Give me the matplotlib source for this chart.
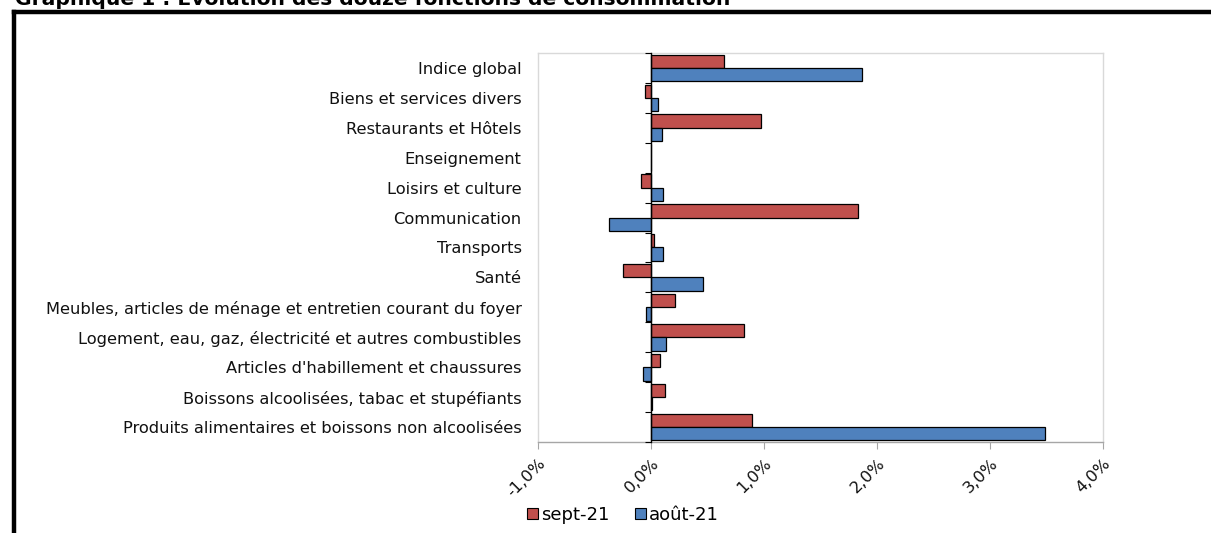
import matplotlib
matplotlib.use("Agg")
import matplotlib.pyplot as plt
from matplotlib.lines import Line2D
from matplotlib.patches import Patch
import numpy as np

categories = [
    "Produits alimentaires et boissons non alcoolisées",
    "Boissons alcoolisées, tabac et stupéfiants",
    "Articles d'habillement et chaussures",
    "Logement, eau, gaz, électricité et autres combustibles",
    "Meubles, articles de ménage et entretien courant du foyer",
    "Santé",
    "Transports",
    "Communication",
    "Loisirs et culture",
    "Enseignement",
    "Restaurants et Hôtels",
    "Biens et services divers",
    "Indice global",
]
sept_21 = [0.89, 0.12, 0.08, 0.82, 0.21, -0.25, 0.03, 1.83, -0.09, 0.0, 0.97, -0.05, 0.65]
aout_21 = [3.49, 0.01, -0.07, 0.13, -0.04, 0.46, 0.11, -0.37, 0.11, 0.0, 0.10, 0.06, 1.87]
series_labels = ["sept-21", "août-21"]
xticks_vals = [-1, 0, 1, 2, 3, 4]
xtick_labels = ["-1,0%", "0,0%", "1,0%", "2,0%", "3,0%", "4,0%"]
title = "Graphique 1 : Evolution des douze fonctions de consommation"

RED = "#C0504D"
BLUE = "#4F81BD"
FONT = "DejaVu Sans"
plt.rcParams["font.family"] = [FONT]

W, H = 1211, 533
fig = plt.figure(figsize=(W / 100, H / 100), dpi=100)
ax = fig.add_axes([538 / W, 1 - 442 / H, (1103 - 538) / W, (442 - 53) / H])

y = np.arange(len(categories))
bh = 0.447
ax.barh(y + bh / 2, sept_21, height=bh, color=RED, edgecolor="black", linewidth=0.9, zorder=2)
ax.barh(y - bh / 2, aout_21, height=bh, color=BLUE, edgecolor="black", linewidth=0.9, zorder=2)

xmin, xmax = -1, 4
ax.set_xlim(xmin, xmax)
ax.set_ylim(-0.5, len(categories) - 0.5)

ax.set_yticks(y)
ax.set_yticklabels(categories, fontsize=11.7, color="#111111")
ax.tick_params(axis="y", length=0, pad=11.7)

ax.set_xticks(xticks_vals)
ax.set_xticklabels(xtick_labels, fontsize=11.8, rotation=45, ha="right", va="top",
                   rotation_mode="anchor", color="#111111")
ax.tick_params(axis="x", length=5, color="#A6A6A6", pad=5)

for s in ax.spines.values():
    s.set_color("#D9D9D9")
    s.set_linewidth(1.0)
ax.spines["bottom"].set_color("#A6A6A6")

# category axis at zero
loc = (0 - xmin) / (xmax - xmin)
sec = ax.secondary_yaxis(loc)
sec.set_yticks(np.arange(-0.5, len(categories), 1.0))
sec.set_yticklabels([])
sec.tick_params(length=4, width=0.8, color="black", direction="out")
sec.spines["left"].set_color("black")
sec.spines["left"].set_linewidth(1.0)
sec.set_zorder(3)

# legend
handles = [Patch(facecolor=RED, edgecolor="black", linewidth=0.8),
           Patch(facecolor=BLUE, edgecolor="black", linewidth=0.8)]
fig.legend(handles, series_labels, loc="center", bbox_to_anchor=(623 / W, 1 - 515 / H),
           ncol=2, frameon=False, fontsize=13, handlelength=0.6, handleheight=0.6,
           handletextpad=0.2, columnspacing=1.4, borderaxespad=0)

# title (partially cut at top, as in the reference)
fig.text(15 / W, 1 - 5 / H, title, fontsize=14.6, fontweight="bold", va="baseline", ha="left")

# outer frame
fx = 13.5 / W
fy = 1 - 11.5 / H
fig.add_artist(Line2D([fx, fx], [0, fy], transform=fig.transFigure, color="black", lw=3.2,
                      solid_capstyle="projecting"))
fig.add_artist(Line2D([fx, 1.01], [fy, fy], transform=fig.transFigure, color="black", lw=3.2,
                      solid_capstyle="projecting"))

fig.savefig("out.png", dpi=100)
